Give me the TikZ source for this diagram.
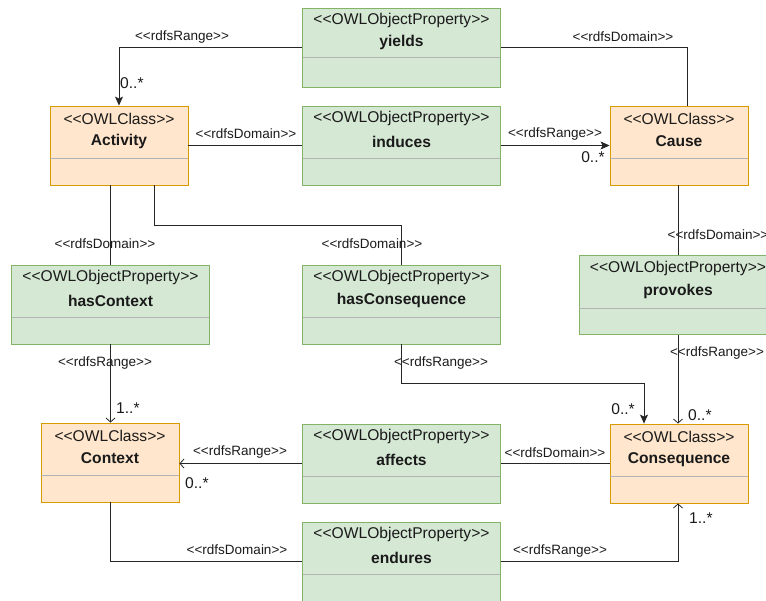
\documentclass[tikz,border=0pt]{standalone}
\usepackage{fontspec}
\newfontfamily\umlfont{Liberation Sans}
\usetikzlibrary{arrows.meta}
\definecolor{clsfill}{HTML}{FFE6CC}
\definecolor{clsdraw}{HTML}{D79B00}
\definecolor{propfill}{HTML}{D5E8D4}
\definecolor{propdraw}{HTML}{82B366}
\definecolor{divcol}{HTML}{B3B3B3}
\definecolor{txtcol}{HTML}{1A1A1A}
\definecolor{linecol}{HTML}{262626}
\tikzset{
  clsbox/.style={draw=clsdraw, fill=clsfill, line width=0.9pt, minimum width=138pt, minimum height=79pt, inner sep=0pt},
  propbox/.style={draw=propdraw, fill=propfill, line width=0.9pt, minimum width=198pt, minimum height=79pt, inner sep=0pt},
  divline/.style={draw=divcol, line width=0.9pt},
  stereo/.style={font=\umlfont\fontsize{15.6}{18}\selectfont, text=txtcol, inner sep=0pt},
  bname/.style={font=\umlfont\bfseries\fontsize{15.6}{18}\selectfont, text=txtcol, inner sep=0pt},
  lbl/.style={font=\umlfont\fontsize{13.5}{16}\selectfont, text=txtcol, inner sep=0pt},
  mult/.style={font=\umlfont\fontsize{15.6}{18}\selectfont, text=txtcol, inner sep=0pt},
  conn/.style={draw=linecol, line width=0.8pt},
  filledarrow/.style={conn, -{Stealth[length=9pt,width=8pt,inset=2pt]}},
  openarrow/.style={conn, -{Straight Barb[length=4pt,width=9pt]}},
}
\begin{document}
\begin{tikzpicture}[x=1pt,y=-1pt]
\useasboundingbox (0,0) rectangle (766,600);
\clip (0,0) rectangle (766,600);
% boxes
\node[propbox] (yields) at (401.5,47.5) {};
\node[clsbox] (activity) at (119,145.5) {};
\node[propbox] (induces) at (401.5,145.5) {};
\node[clsbox] (cause) at (679,145.5) {};
\node[propbox] (hascontext) at (110.5,304.5) {};
\node[propbox] (hasconseq) at (401.5,304.5) {};
\node[propbox] (provokes) at (678,295) {};
\node[clsbox] (context) at (110,462.5) {};
\node[propbox] (affects) at (401.5,463.5) {};
\node[clsbox] (consequence) at (679,463.5) {};
\node[propbox] (endures) at (401.5,561.5) {};
% dividers
\draw[divline] ([xshift=0.5pt,yshift=-50pt]yields.north west) -- ([xshift=-0.5pt,yshift=-50pt]yields.north east);
\foreach \b in {activity,induces,cause,hascontext,hasconseq,provokes,context,affects,consequence,endures}
  \draw[divline] ([xshift=0.5pt,yshift=-53pt]\b.north west) -- ([xshift=-0.5pt,yshift=-53pt]\b.north east);
% titles
\node[stereo] (yieldsS) at ([yshift=-13pt]yields.north) {<<OWLObjectProperty>>};
\node[bname] (yieldsN) at ([yshift=-35pt]yields.north) {yields};
\node[stereo] (activityS) at ([yshift=-13pt]activity.north) {<<OWLClass>>};
\node[bname] (activityN) at ([yshift=-36pt]activity.north) {Activity};
\node[stereo] (inducesS) at ([yshift=-13pt]induces.north) {<<OWLObjectProperty>>};
\node[bname] (inducesN) at ([yshift=-36pt]induces.north) {induces};
\node[stereo] (causeS) at ([yshift=-13pt]cause.north) {<<OWLClass>>};
\node[bname] (causeN) at ([yshift=-36pt]cause.north) {Cause};
\node[stereo] (hascontextS) at ([yshift=-13pt]hascontext.north) {<<OWLObjectProperty>>};
\node[bname] (hascontextN) at ([yshift=-36pt]hascontext.north) {hasContext};
\node[stereo] (hasconseqS) at ([yshift=-13pt]hasconseq.north) {<<OWLObjectProperty>>};
\node[bname] (hasconseqN) at ([yshift=-36pt]hasconseq.north) {hasConsequence};
\node[stereo] (provokesS) at ([yshift=-13pt]provokes.north) {<<OWLObjectProperty>>};
\node[bname] (provokesN) at ([yshift=-36pt]provokes.north) {provokes};
\node[stereo] (contextS) at ([yshift=-13pt]context.north) {<<OWLClass>>};
\node[bname] (contextN) at ([yshift=-36pt]context.north) {Context};
\node[stereo] (affectsS) at ([yshift=-13pt]affects.north) {<<OWLObjectProperty>>};
\node[bname] (affectsN) at ([yshift=-36pt]affects.north) {affects};
\node[stereo] (consequenceS) at ([yshift=-13pt]consequence.north) {<<OWLClass>>};
\node[bname] (consequenceN) at ([yshift=-36pt]consequence.north) {Consequence};
\node[stereo] (enduresS) at ([yshift=-13pt]endures.north) {<<OWLObjectProperty>>};
\node[bname] (enduresN) at ([yshift=-36pt]endures.north) {endures};
% connectors
\draw[filledarrow] (yields.west) -| (activity.north);
\node[lbl] (l1) at (182,37) {<<rdfsRange>>};
\node[mult,anchor=west] (m1) at (120,83) {0..*};

\draw[conn] (yields.east) -| ([xshift=8pt]cause.north);
\node[lbl] (l2) at (623,37) {<<rdfsDomain>>};

\draw[conn] (activity.east) -- (induces.west);
\node[lbl] (l3) at (246,134) {<<rdfsDomain>>};

\draw[filledarrow] (induces.east) -- (cause.west);
\node[lbl] (l4) at (555,134) {<<rdfsRange>>};
\node[mult] (m4) at (593,157) {0..*};

\draw[conn] ([xshift=-9pt]activity.south) -- ([xshift=-9pt]activity.south |- hascontext.north);
\node[lbl] (l5) at (105,244) {<<rdfsDomain>>};

\draw[conn] ([xshift=35pt]activity.south) -- ++(0,40) -| (hasconseq.north);
\node[lbl] (l6) at (372,244) {<<rdfsDomain>>};

\draw[openarrow] (hascontext.south) -- (hascontext.south |- context.north);
\node[lbl] (l7) at (105,363) {<<rdfsRange>>};
\node[mult,anchor=west] (m7) at (116,408) {1..*};

\draw[filledarrow] (hasconseq.south) -- ++(0,39) -| ([xshift=-35pt]consequence.north);
\node[lbl] (l8) at (441,363) {<<rdfsRange>>};
\node[mult,anchor=east] (m8) at (635,409) {0..*};

\draw[conn] ([xshift=-1pt]cause.south) -- ([xshift=-1pt]cause.south |- provokes.north);
\node[lbl] (l9) at (718,235) {<<rdfsDomain>>};

\draw[openarrow] (provokes.south) -- (provokes.south |- consequence.north);
\node[lbl] (l10) at (717,353) {<<rdfsRange>>};
\node[mult,anchor=west] (m10) at (688,415) {0..*};

\draw[openarrow] (affects.west) -- (affects.west -| context.east);
\node[lbl] (l11) at (240,452) {<<rdfsRange>>};
\node[mult,anchor=west] (m11) at (185,483) {0..*};

\draw[conn] (affects.east) -- (consequence.west);
\node[lbl] (l12) at (555,453) {<<rdfsDomain>>};

\draw[conn] (context.south) |- (endures.west);
\node[lbl] (l13) at (237,550) {<<rdfsDomain>>};

\draw[openarrow] (endures.east) -| ([xshift=-1pt]consequence.south);
\node[lbl] (l14) at (560,551) {<<rdfsRange>>};
\node[mult,anchor=west] (m14) at (689,518) {1..*};
\end{tikzpicture}
\end{document}
